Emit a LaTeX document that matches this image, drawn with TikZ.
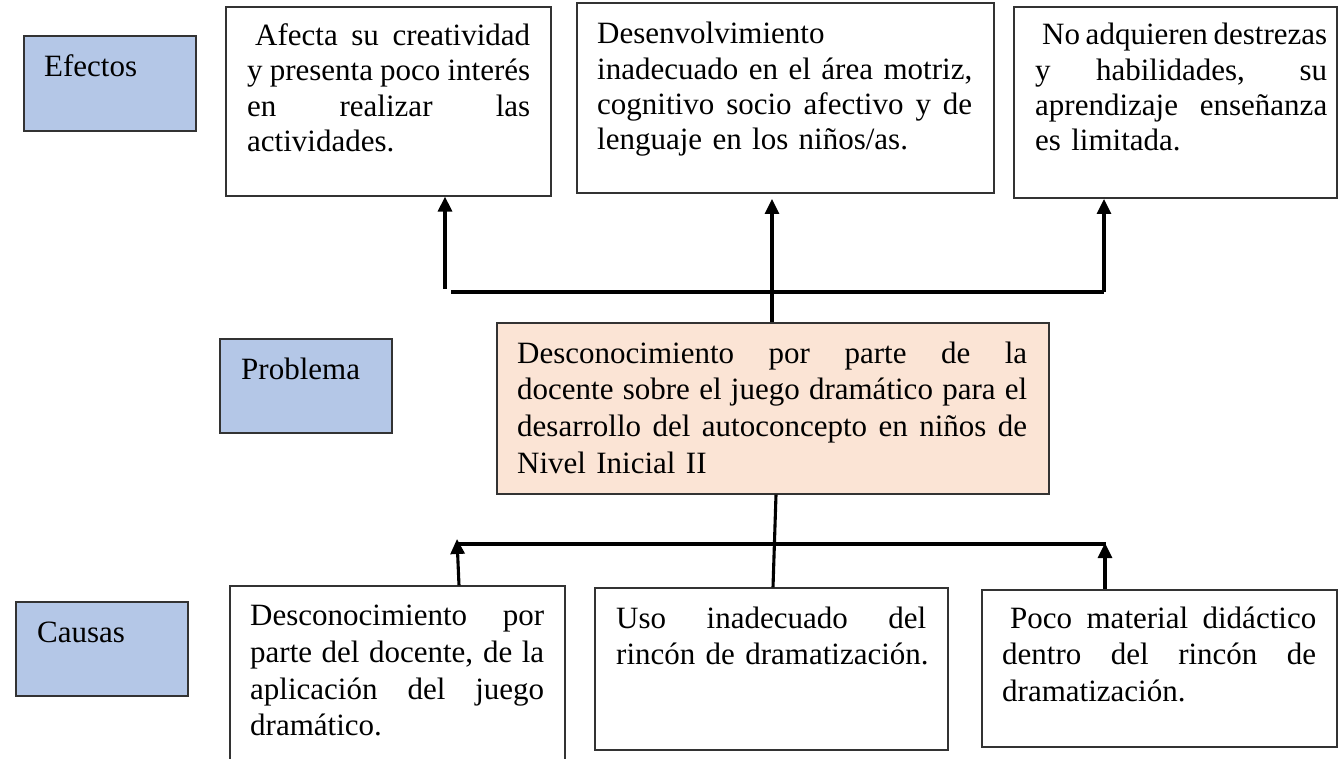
\documentclass[tikz,border=0pt]{standalone}
\usepackage{fontspec}
\setmainfont{Liberation Serif}
\usetikzlibrary{arrows.meta,fit}
\definecolor{labblue}{HTML}{B4C7E7}
\definecolor{peach}{HTML}{FBE4D5}
\definecolor{edge}{HTML}{333333}
\newcommand\jl[1]{\leavevmode\hbox to \W{\spaceskip=.25em plus 1fil minus .12em\relax #1}}
\newcommand\lastln[1]{\leavevmode\hbox{#1}}
\tikzset{
  box/.style={draw=edge, line width=1.2pt, inner sep=0pt, fill=white},
  labbox/.style={box, fill=labblue},
  probbox/.style={box, fill=peach},
  txtE/.style={anchor=base west, inner sep=0pt, align=left, font=\fontsize{31}{35.3}\selectfont},
  txtC/.style={anchor=base west, inner sep=0pt, align=left, font=\fontsize{31}{36.7}\selectfont},
  conn/.style={line width=3.1pt, black},
  arr/.style={conn, -{Triangle[length=15pt,width=14pt]}}
}
\begin{document}
\begin{tikzpicture}[x=1pt,y=-1pt]
\useasboundingbox (0,0) rectangle (1338,759);
\fill[white] (0,0) rectangle (1338,759);

% label boxes
\node[labbox, fit={(24,36)(196,131)}] (efectos) {};
\node[txtE] (efectosT) at (44,76.5) {Efectos};
\node[labbox, fit={(220,339)(392,433)}] (problema) {};
\node[txtE] (problemaT) at (241,379) {Problema};
\node[labbox, fit={(16,602)(188,696)}] (causas) {};
\node[txtE] (causasT) at (37,642) {Causas};

% effect boxes
\node[box, fit={(226,7)(551,196)}] (efA) {};
\node[txtE, text width=283pt] (efAT) at (247,45.7) {\def\W{283pt}\jl{\hspace*{8pt}Afecta su creatividad}\\ \jl{y presenta poco interés}\\ \jl{en realizar las}\\ \lastln{actividades.}};
\node[box, fit={(577,3)(994,193)}] (efB) {};
\node[txtE, text width=375pt] (efBT) at (597,44) {\def\W{375pt}\lastln{Desenvolvimiento}\\ \jl{inadecuado en el área motriz,}\\ \jl{cognitivo socio afectivo y de}\\ \lastln{lenguaje en los niños/as.}};
\node[box, fit={(1014,7)(1337,198)}] (efC) {};
\node[txtE, text width=292pt] (efCT) at (1035,45) {\def\W{292pt}\jl{\hspace*{7pt}No adquieren destrezas}\\ \jl{y habilidades, su}\\ \jl{aprendizaje enseñanza}\\ \lastln{es limitada.}};

% problem box
\node[probbox, fit={(497,323)(1049,494)}] (prob) {};
\node[txtC, text width=510pt] (probT) at (517,363) {\def\W{510pt}\jl{Desconocimiento por parte de la}\\ \jl{docente sobre el juego dramático para el}\\ \jl{desarrollo del autoconcepto en niños de}\\ \lastln{Nivel Inicial II}};

% cause boxes
\node[box, fit={(230,586)(565,775)}] (caA) {};
\node[txtC, text width=294pt] (caAT) at (250,625.7) {\def\W{294pt}\jl{Desconocimiento por}\\ \jl{parte del docente, de la}\\ \jl{aplicación del juego}\\ \lastln{dramático.}};
\node[box, fit={(595,588)(948,750)}] (caB) {};
\node[txtC, text width=310pt] (caBT) at (616,628) {\def\W{310pt}\jl{Uso inadecuado del}\\ \lastln{rincón de dramatización.}};
\node[box, fit={(982,590)(1337,747)}] (caC) {};
\node[txtC, text width=314pt] (caCT) at (1002,628) {\def\W{314pt}\jl{\hspace*{8pt}Poco material didáctico}\\ \jl{dentro del rincón de}\\ \lastln{dramatización.}};

% top connectors
\coordinate (jA) at (445,289);
\coordinate (hL) at (451,292);
\coordinate (hR) at (1104,292);
\coordinate (tB) at (772,199);
\coordinate (tC) at (1104,199);
\draw[arr] (jA) -- (efA.south -| jA);
\draw[conn] (hL) -- (hR);
\draw[arr] (hR) -- (tC);
\draw[arr] (prob.north -| tB) -- (tB);

% bottom connectors
\coordinate (pb) at (776,494);
\coordinate (cb) at (773,588);
\coordinate (bL) at (457,544);
\coordinate (bR) at (1106,544);
\coordinate (aL) at (459,586);
\coordinate (tL) at (457,539);
\coordinate (aR) at (1105,590);
\coordinate (tR) at (1105,543);
\draw[conn] (prob.south -| pb) -- (caB.north -| cb);
\draw[conn] (bL) -- (bR);
\draw[arr] (caA.north -| aL) -- (tL);
\draw[arr] (caC.north -| aR) -- (tR);
\end{tikzpicture}
\end{document}
